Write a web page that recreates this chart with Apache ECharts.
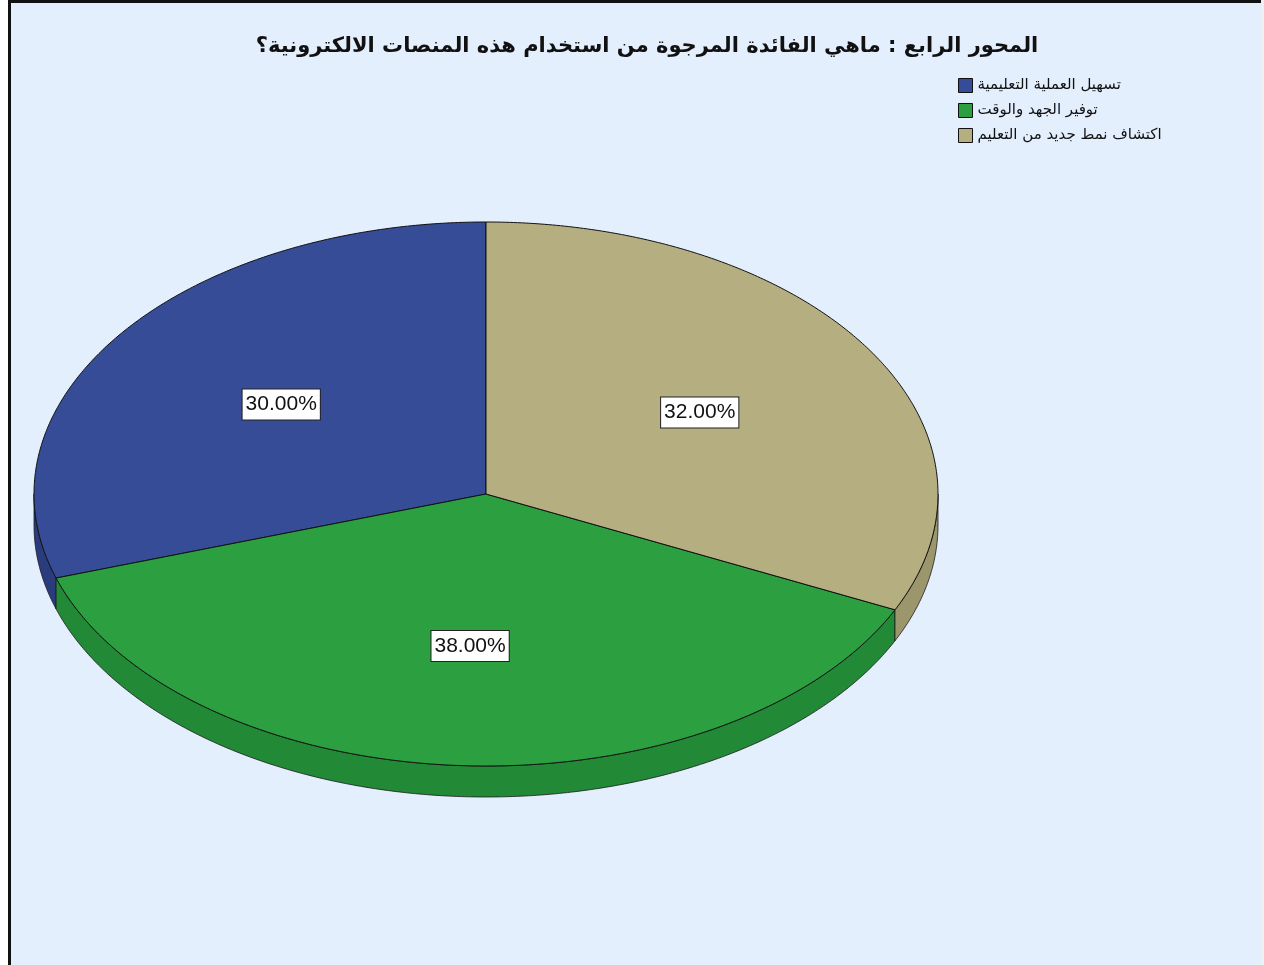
<!DOCTYPE html>
<html>
<head>
<meta charset="utf-8">
<script src="https://cdn.jsdelivr.net/npm/echarts@6/dist/echarts.min.js"></script>
<style>
  html, body { margin: 0; padding: 0; background: #ffffff; }
  #chart { width: 1264px; height: 965px; }
</style>
</head>
<body>
<div id="chart"></div>
<script>
// Chart data
const titleText = 'المحور الرابع : ماهي الفائدة المرجوة من استخدام هذه المنصات الالكترونية؟';
const categories = ['تسهيل العملية التعليمية', 'توفير الجهد والوقت', 'اكتشاف نمط جديد من التعليم'];
const values = [30, 38, 32];
const colors = ['#364C96', '#2CA041', '#B5AE81'];
const sideColors = ['#2A3C7E', '#228A36', '#9C966C'];

const total = values.reduce((a, b) => a + b, 0);

// Tilted pie geometry (ellipse with a visible rim)
const CX = 486, CY = 494, RX = 452, RY = 272, DEPTH = 31;
const START = 90; // degrees, slices advance counter-clockwise from 12 o'clock

function pt(deg, dy) {
  const r = deg * Math.PI / 180;
  return [CX + RX * Math.cos(r), CY - RY * Math.sin(r) + (dy || 0)];
}

function arcPoints(a1, a2, dy) {
  const pts = [];
  const n = Math.max(2, Math.ceil(Math.abs(a2 - a1) / 0.5));
  for (let k = 0; k <= n; k++) pts.push(pt(a1 + (a2 - a1) * k / n, dy));
  return pts;
}

function makeRenderer(idx) {
  return function (params, api) {
    const v = api.value(0);
    let before = 0;
    for (let k = 0; k < idx; k++) before += values[k];
    const a1 = START + before / total * 360;
    const a2 = a1 + v / total * 360;
    const children = [];

    // rim: the part of the outer edge that faces the viewer (lower half)
    [[180, 360], [540, 720]].forEach(([lo, hi]) => {
      const s = Math.max(a1, lo), e = Math.min(a2, hi);
      if (e > s) {
        const top = arcPoints(s, e, 0);
        const bottom = arcPoints(s, e, DEPTH).reverse();
        children.push({
          type: 'polygon',
          shape: { points: top.concat(bottom) },
          style: { fill: sideColors[idx], stroke: '#1a1a1a', lineWidth: 0.8 }
        });
      }
    });

    // top face
    const face = [[CX, CY]].concat(arcPoints(a1, a2, 0));
    children.push({
      type: 'polygon',
      shape: { points: face },
      style: { fill: colors[idx], stroke: '#111', lineWidth: 1 }
    });

    // percentage label
    const mid = (a1 + a2) / 2;
    const mr = mid * Math.PI / 180;
    const f = 0.56;
    children.push({
      type: 'text',
      x: CX + RX * f * Math.cos(mr),
      y: CY - RY * f * Math.sin(mr),
      style: {
        text: (v / total * 100).toFixed(2) + '%',
        font: '21px "Liberation Sans", Arial, sans-serif',
        fill: '#111',
        align: 'center',
        verticalAlign: 'middle',
        backgroundColor: '#ffffff',
        borderColor: '#222',
        borderWidth: 1,
        padding: [5, 3, 4, 3]
      }
    });
    return { type: 'group', children };
  };
}

const chart = echarts.init(document.getElementById('chart'), null, { renderer: 'canvas' });

chart.setOption({
  animation: false,
  backgroundColor: '#ffffff',
  graphic: [
    { type: 'rect', z: -10, shape: { x: 0, y: 0, width: 1264, height: 965 }, style: { fill: '#ffffff' } },
    { type: 'rect', z: -9, shape: { x: 9.5, y: 1.5, width: 1300, height: 1000 },
      style: { fill: '#E3EFFD', stroke: '#111', lineWidth: 3 } },
    { type: 'rect', z: -8, shape: { x: 1261, y: 0, width: 3, height: 965 }, style: { fill: '#EEF0F2' } }
  ],
  title: {
    text: titleText,
    left: 642,
    textAlign: 'center',
    top: 31,
    textStyle: { fontFamily: '"DejaVu Sans", sans-serif', fontWeight: 'bold', fontSize: 21, color: '#111' }
  },
  legend: {
    orient: 'vertical',
    left: 953,
    top: 73,
    itemWidth: 14,
    itemHeight: 14,
    itemGap: 10,
    icon: 'rect',
    itemStyle: { borderColor: '#111', borderWidth: 1 },
    textStyle: { fontFamily: '"DejaVu Sans", sans-serif', fontSize: 15, color: '#111' },
    data: categories
  },
  series: categories.map((name, i) => ({
    type: 'custom',
    name: name,
    coordinateSystem: 'none',
    itemStyle: { color: colors[i] },
    data: [[values[i]]],
    renderItem: makeRenderer(i)
  }))
});
</script>
</body>
</html>
